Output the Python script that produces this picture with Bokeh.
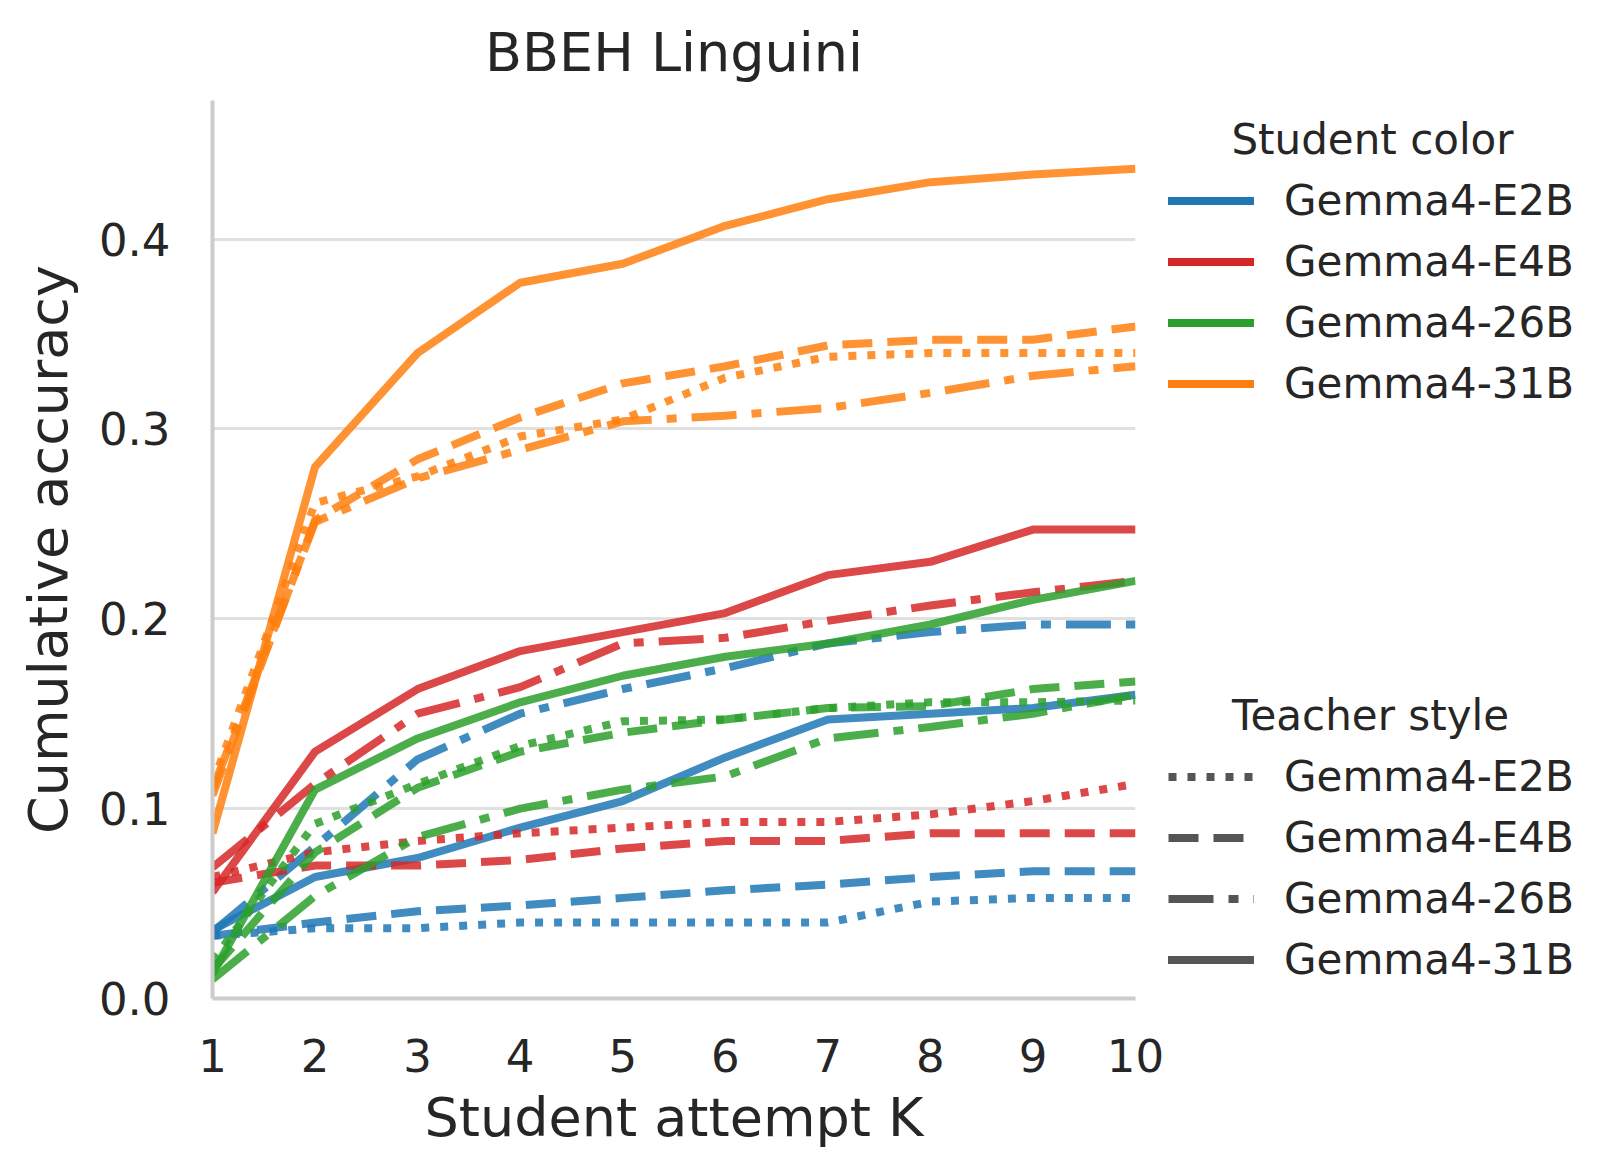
from bokeh.plotting import figure
from bokeh.layouts import row
from bokeh.models import (ColumnDataSource, Legend, LegendItem, Label, FixedTicker,
                          PrintfTickFormatter, Range1d)
from bokeh.embed import file_html
from bokeh.resources import INLINE

# ---------------- data ----------------
attempts = [1, 2, 3, 4, 5, 6, 7, 8, 9, 10]
students = ["Gemma4-E2B", "Gemma4-E4B", "Gemma4-26B", "Gemma4-31B"]
teachers = ["Gemma4-E2B", "Gemma4-E4B", "Gemma4-26B", "Gemma4-31B"]
y_ticks = [0.0, 0.1, 0.2, 0.3, 0.4]

# student E2B
e2b_teach_e2b = [0.033, 0.037, 0.037, 0.040, 0.040, 0.040, 0.040, 0.051, 0.053, 0.053]
e2b_teach_e4b = [0.033, 0.040, 0.046, 0.049, 0.053, 0.057, 0.060, 0.064, 0.067, 0.067]
e2b_teach_26b = [0.035, 0.080, 0.126, 0.150, 0.163, 0.174, 0.187, 0.193, 0.197, 0.197]
e2b_teach_31b = [0.036, 0.064, 0.074, 0.090, 0.104, 0.127, 0.147, 0.150, 0.153, 0.160]
# student E4B
e4b_teach_e2b = [0.064, 0.077, 0.083, 0.087, 0.090, 0.093, 0.093, 0.097, 0.104, 0.113]
e4b_teach_e4b = [0.061, 0.070, 0.070, 0.073, 0.079, 0.083, 0.083, 0.087, 0.087, 0.087]
e4b_teach_26b = [0.069, 0.113, 0.150, 0.164, 0.187, 0.190, 0.199, 0.207, 0.214, 0.220]
e4b_teach_31b = [0.056, 0.130, 0.163, 0.183, 0.193, 0.203, 0.223, 0.230, 0.247, 0.247]
# student 26B
b26_teach_e2b = [0.020, 0.092, 0.113, 0.133, 0.146, 0.147, 0.153, 0.156, 0.156, 0.157]
b26_teach_e4b = [0.015, 0.077, 0.111, 0.130, 0.140, 0.147, 0.153, 0.154, 0.163, 0.167]
b26_teach_26b = [0.010, 0.054, 0.085, 0.100, 0.110, 0.117, 0.137, 0.143, 0.150, 0.160]
b26_teach_31b = [0.013, 0.110, 0.137, 0.156, 0.170, 0.180, 0.187, 0.197, 0.210, 0.220]
# student 31B
b31_teach_e2b = [0.113, 0.261, 0.275, 0.296, 0.305, 0.327, 0.338, 0.340, 0.340, 0.340]
b31_teach_e4b = [0.107, 0.252, 0.284, 0.306, 0.324, 0.333, 0.344, 0.347, 0.347, 0.354]
b31_teach_26b = [0.110, 0.251, 0.274, 0.289, 0.304, 0.307, 0.311, 0.319, 0.328, 0.333]
b31_teach_31b = [0.087, 0.280, 0.340, 0.377, 0.387, 0.407, 0.421, 0.430, 0.434, 0.437]

series = [
    [e2b_teach_e2b, e2b_teach_e4b, e2b_teach_26b, e2b_teach_31b],
    [e4b_teach_e2b, e4b_teach_e4b, e4b_teach_26b, e4b_teach_31b],
    [b26_teach_e2b, b26_teach_e4b, b26_teach_26b, b26_teach_31b],
    [b31_teach_e2b, b31_teach_e4b, b31_teach_26b, b31_teach_31b],
]

# ---------------- style ----------------
student_colors = ["#1f77b4", "#d62728", "#2ca02c", "#ff7f0e"]
teacher_dashes = ["8 11", "30 15", "45 15 10 15", "solid"]
FONT = "DejaVu Sans"
TXT = "#262626"
LW = 8

H = 1151
MAIN_W = 1165
LEG_W = 1621 - MAIN_W
FL, FR, FT, FB = 212, 1135, 100, 998

p = figure(width=MAIN_W, height=H, output_backend="svg", toolbar_location=None,
           x_range=Range1d(1, 10), y_range=Range1d(0, 0.473),
           min_border_left=FL, min_border_right=MAIN_W - FR,
           min_border_top=FT, min_border_bottom=H - FB,
           title="BBEH Linguini")

p.title.align = "center"
p.title.text_font = FONT
p.title.text_font_size = "54px"
p.title.text_font_style = "normal"
p.title.text_color = TXT
p.title.standoff = 33

p.outline_line_color = None
p.background_fill_color = "white"
p.border_fill_color = "white"

p.xgrid.visible = False
p.ygrid.grid_line_color = "#e0e0e0"
p.ygrid.grid_line_width = 3

p.xaxis.ticker = FixedTicker(ticks=attempts)
p.yaxis.ticker = FixedTicker(ticks=y_ticks)
p.yaxis.formatter = PrintfTickFormatter(format="%.1f")

for ax in (p.xaxis[0], p.yaxis[0]):
    ax.axis_line_color = "#cccccc"
    ax.axis_line_width = 4
    ax.major_tick_line_color = None
    ax.minor_tick_line_color = None
    ax.major_tick_out = 0
    ax.major_tick_in = 0
    ax.major_label_text_font = FONT
    ax.major_label_text_font_size = "45px"
    ax.major_label_text_color = TXT
    ax.axis_label_text_font = FONT
    ax.axis_label_text_font_size = "54px"
    ax.axis_label_text_font_style = "normal"
    ax.axis_label_text_color = TXT

p.xaxis.axis_label = "Student attempt K"
p.yaxis.axis_label = "Cumulative accuracy"
p.yaxis.major_label_standoff = 42
p.xaxis.major_label_standoff = 40
p.yaxis.axis_label_standoff = 16
p.xaxis.axis_label_standoff = 11

# ---------------- lines ----------------
for si, student in enumerate(students):
    for ti, teacher in enumerate(teachers):
        src = ColumnDataSource(data=dict(k=attempts, acc=series[si][ti]))
        p.line("k", "acc", source=src, line_color=student_colors[si],
               line_width=LW, line_alpha=0.85, line_dash=teacher_dashes[ti],
               line_join="round")

# ---------------- legend panel ----------------
# (its plot frame is aligned with the main frame: y 100..998 on the page)
q = figure(width=LEG_W, height=H, output_backend="svg", toolbar_location=None,
           x_range=Range1d(0, 1), y_range=Range1d(0, 1),
           min_border=0, min_border_left=0, min_border_right=0,
           min_border_top=FT, min_border_bottom=H - FB)
q.axis.visible = False
q.grid.visible = False
q.outline_line_color = None
q.background_fill_color = "white"
q.border_fill_color = "white"

def proxy(color, dash, cap):
    src = ColumnDataSource(data=dict(k=[float("nan")], acc=[float("nan")]))
    return q.line("k", "acc", source=src, line_color=color, line_width=LW,
                  line_dash=dash, line_cap=cap)

color_items = [LegendItem(label=s, renderers=[proxy(c, "solid", "round")])
               for s, c in zip(students, student_colors)]
style_items = [LegendItem(label=t, renderers=[proxy("#555555", d, "round" if d == "solid" else "butt")])
               for t, d in zip(teachers, teacher_dashes)]

def make_legend(items, loc):
    return Legend(items=items, location=loc, orientation="vertical",
                  glyph_width=86, glyph_height=61, label_height=61, spacing=0,
                  padding=0, margin=0, label_standoff=30,
                  label_text_font=FONT, label_text_font_size="42px",
                  label_text_color=TXT, label_text_baseline="middle",
                  border_line_color=None, background_fill_alpha=0)

X0 = 1168 - MAIN_W
q.add_layout(make_legend(color_items, (X0, FB - 414)))
q.add_layout(make_legend(style_items, (X0, FB - 990)))

for text, cx, cy in [("Student color", 1372, 139), ("Teacher style", 1370, 715)]:
    q.add_layout(Label(x=cx - MAIN_W, y=FB - cy, x_units="screen", y_units="screen",
                       text=text, text_align="center", text_baseline="middle",
                       text_font=FONT, text_font_size="42px", text_color=TXT))

open("out.html", "w").write(file_html(row(p, q), INLINE))
